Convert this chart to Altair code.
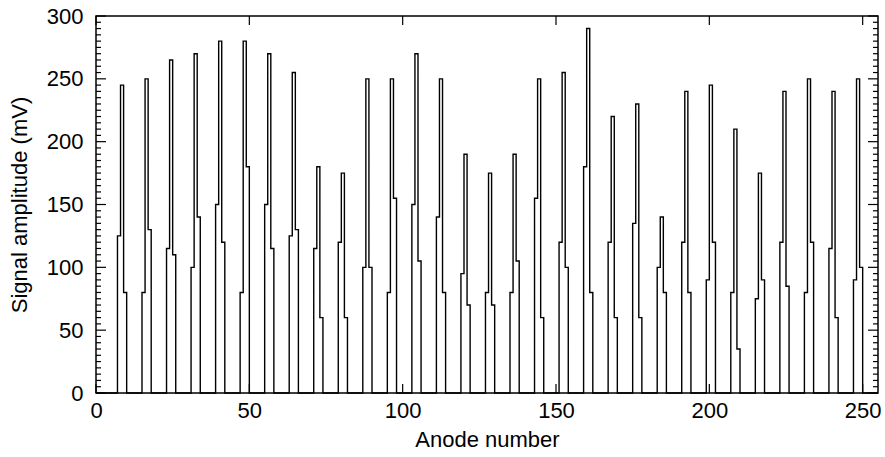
import altair as alt
import pandas as pd

# first anode of each firing group (three adjacent anodes per group)
first_anode = [7, 15, 23, 31, 39, 47, 55, 63, 71, 79, 87, 95, 103, 111, 119, 127,
               135, 143, 151, 159, 167, 175, 183, 191, 199, 207, 215, 223, 231, 239, 247]
# amplitude (mV) on the first, central and last anode of each group
rise = [125, 80, 115, 100, 150, 80, 150, 125, 115, 120, 100, 80, 150, 140, 95, 80,
        80, 155, 120, 180, 120, 135, 100, 120, 90, 80, 75, 120, 80, 115, 90]
peak = [245, 250, 265, 270, 280, 280, 270, 255, 180, 175, 250, 250, 270, 250, 190, 175,
        190, 250, 255, 290, 220, 230, 140, 240, 245, 210, 175, 240, 250, 240, 250]
fall = [80, 130, 110, 140, 120, 180, 115, 130, 60, 60, 100, 155, 105, 80, 70, 70,
        105, 60, 100, 80, 60, 60, 80, 80, 120, 35, 90, 85, 120, 60, 100]

n_anodes = 256
x_ticks = [0, 50, 100, 150, 200, 250]
y_ticks = [0, 50, 100, 150, 200, 250, 300]
y_minor = [v for v in range(0, 301, 5) if v % 50 != 0]

amp = [0] * n_anodes
for a, r, p, f in zip(first_anode, rise, peak, fall):
    amp[a] = r
    amp[a + 1] = p
    amp[a + 2] = f
df = pd.DataFrame({"anode": list(range(n_anodes)), "amp": amp})

W, H = 782, 377
xs = alt.Scale(domain=[0, 255], nice=False, zero=False)
ys = alt.Scale(domain=[0, 300], nice=False)
x_axis = alt.Axis(values=x_ticks, title="Anode number", labelPadding=7, titlePadding=8,
                  labelFlush=False)
y_axis = alt.Axis(values=y_ticks, title="Signal amplitude (mV)", labelPadding=13, titlePadding=15,
                  labelFlush=False)

line = alt.Chart(df).mark_line(interpolate="step-after", color="black", strokeWidth=1.4).encode(
    x=alt.X("anode:Q", scale=xs, axis=x_axis),
    y=alt.Y("amp:Q", scale=ys, axis=y_axis),
)

ydf = pd.DataFrame({"v": y_ticks})
ymdf = pd.DataFrame({"v": y_minor})
xdf = pd.DataFrame({"v": x_ticks})

def yrule(data, x0, x1):
    return alt.Chart(data).mark_rule(color="black", strokeWidth=1.2).encode(
        y=alt.Y("v:Q", scale=ys, axis=y_axis), x=alt.value(x0), x2=alt.value(x1))

def xrule(data, y0, y1):
    return alt.Chart(data).mark_rule(color="black", strokeWidth=1.2).encode(
        x=alt.X("v:Q", scale=xs, axis=x_axis), y=alt.value(y0), y2=alt.value(y1))

chart = alt.layer(
    line,
    yrule(ydf, 0, 10), yrule(ydf, W - 10, W),
    yrule(ymdf, 0, 5), yrule(ymdf, W - 5, W),
    xrule(xdf, H - 9, H), xrule(xdf, 0, 9),
).properties(
    width=W, height=H,
    autosize=alt.AutoSizeParams(type="none"),
    padding={"left": 96, "top": 16, "right": 7, "bottom": 64},
).configure_view(
    stroke="black", strokeWidth=1.5
).configure_axis(
    ticks=False, domain=False, grid=False,
    labelFont="Liberation Sans", labelFontSize=22, labelColor="black",
    titleFont="Liberation Sans", titleFontSize=22, titleFontWeight="normal", titleColor="black",
)

chart.save("out.html", embed_options={"renderer": "svg", "actions": False})
